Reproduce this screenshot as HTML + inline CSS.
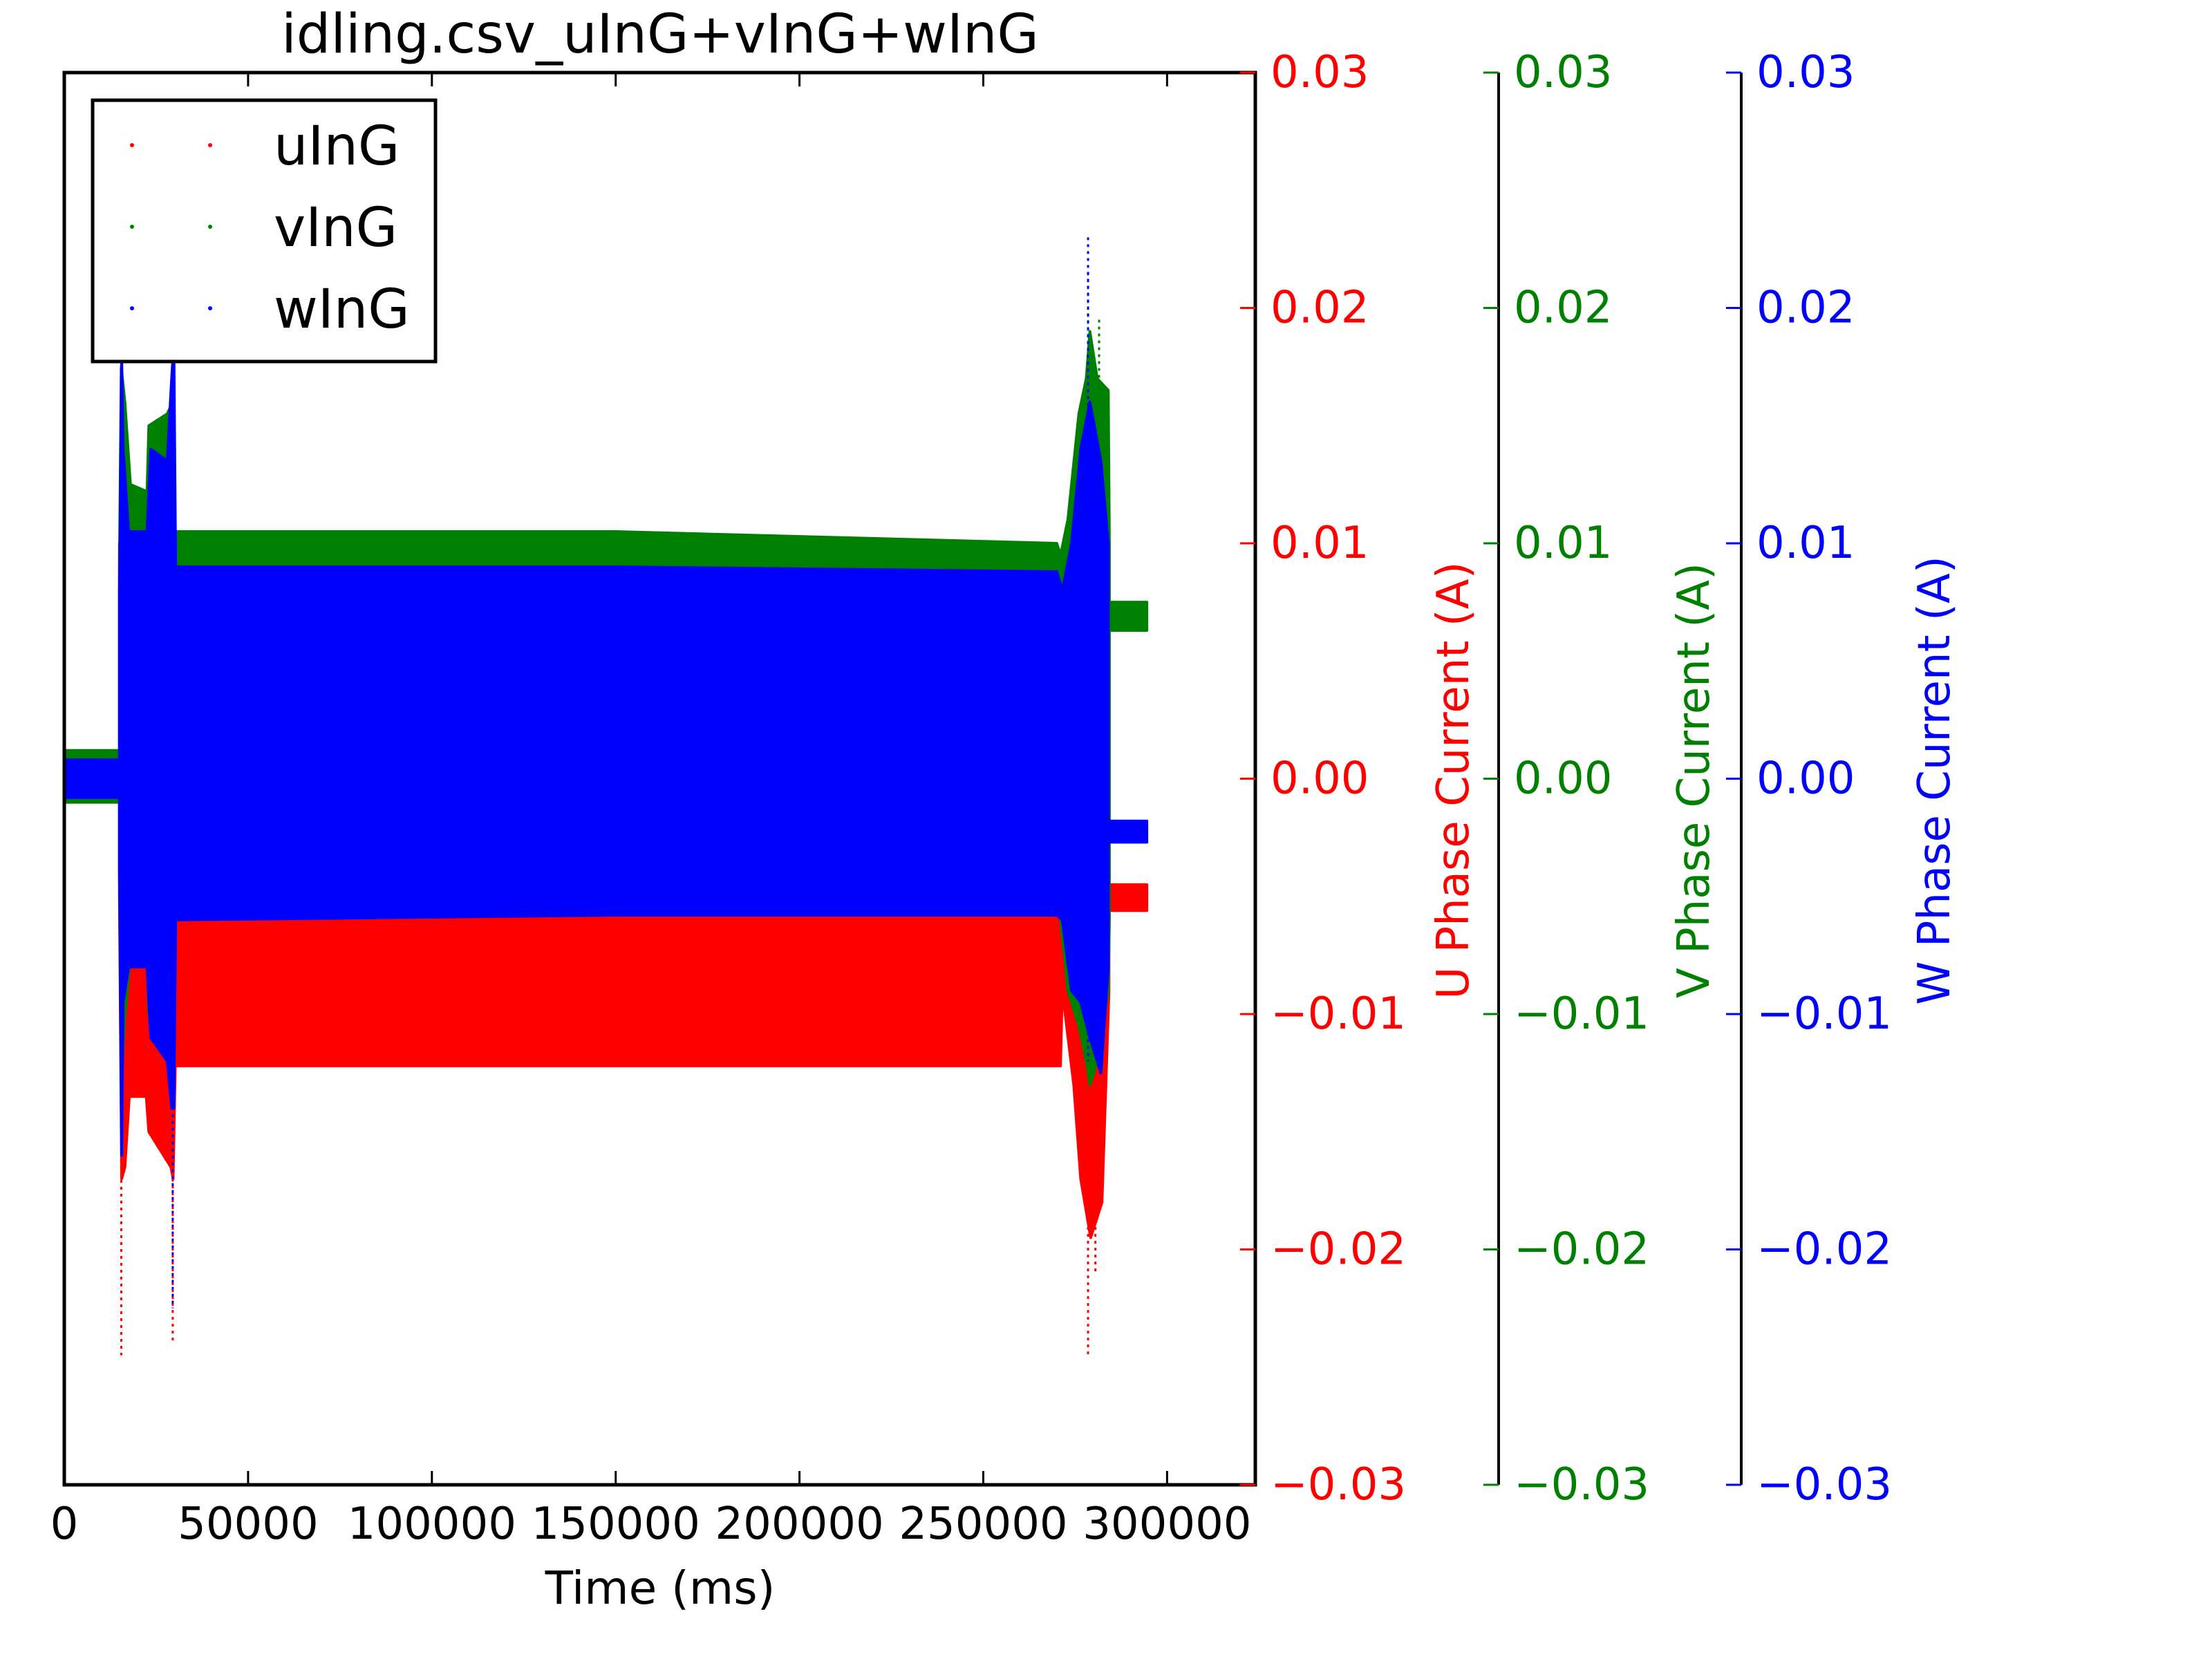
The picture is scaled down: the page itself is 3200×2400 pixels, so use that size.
<!DOCTYPE html>
<html><head><meta charset="utf-8"><style>
html,body{margin:0;padding:0;background:#fff;}
svg{display:block;font-family:"DejaVu Sans","Liberation Sans",sans-serif;}
</style></head><body>
<svg id="chart" width="3200" height="2400" viewBox="0 0 3200 2400" xmlns="http://www.w3.org/2000/svg">
<rect x="0" y="0" width="3200" height="2400" fill="#fff"/>
<g id="data"></g>
<g id="axes"></g>
</svg>
<script>
// ---- data (time in ms, current in A) ----
const xTicks = [0, 50000, 100000, 150000, 200000, 250000, 300000];
const xTickLabels = ["0","50000","100000","150000","200000","250000","300000"];
const yTicks = [0.03, 0.02, 0.01, 0.00, -0.01, -0.02, -0.03];
const yTickLabels = ["0.03","0.02","0.01","0.00","\u22120.01","\u22120.02","\u22120.03"];

// u (red) envelope segments
const uTime = [[0,15000],[15000,15600,16500,17700,22300,23000,29000,29600,30200,150000,271000,271500,274600,276500,279200,282300,284200],[284500,294500]];
const uHigh = [[0.0004,0.0004],[0.010,0.010,0.010,0.010,0.010,0.010,0.010,0.010,0.008,0.008,0.008,0.008,0.010,0.010,0.010,0.010,0.009],[-0.0045,-0.0045]];
const uLow  = [[-0.0008,-0.0008],[-0.005,-0.017,-0.0165,-0.0135,-0.0135,-0.015,-0.0165,-0.017,-0.0122,-0.0122,-0.0122,-0.009,-0.013,-0.017,-0.0195,-0.018,-0.009],[-0.0056,-0.0056]];
// v (green)
const vTime = [[0,15000],[15000,15500,16500,18000,22500,23000,28000,29500,30200,150000,270000,271000,273000,276000,278000,279000,281000,284000,284300],[284500,294500]];
const vHigh = [[0.0012,0.0012],[0.009,0.0175,0.016,0.0125,0.0122,0.015,0.0155,0.016,0.0105,0.0105,0.0100,0.0095,0.011,0.0155,0.017,0.019,0.017,0.0165,0.010],[0.0075,0.0075]];
const vLow  = [[-0.0010,-0.0010],[-0.004,-0.013,-0.010,-0.0075,-0.0075,-0.010,-0.011,-0.013,-0.0055,-0.0055,-0.0055,-0.006,-0.009,-0.0105,-0.012,-0.013,-0.012,-0.009,-0.006],[0.0063,0.0063]];
// w (blue)
const wTime = [[0,15000],[15000,15600,16000,17500,22500,23500,28000,29200,29800,30300,150000,270000,271500,274000,276500,279000,282000,284000],[284500,294500]];
const wHigh = [[0.0008,0.0008],[0.008,0.018,0.014,0.0105,0.0105,0.014,0.0135,0.017,0.0185,0.009,0.009,0.0088,0.008,0.010,0.014,0.016,0.0135,0.010],[-0.0018,-0.0018]];
const wLow  = [[-0.0008,-0.0008],[-0.004,-0.016,-0.0095,-0.008,-0.008,-0.011,-0.012,-0.014,-0.014,-0.006,-0.0058,-0.0058,-0.006,-0.009,-0.0095,-0.011,-0.0125,-0.008],[-0.0027,-0.0027]];
// sparse outlier spikes: time, high, low
const uSpikeT = [15500, 29500, 278500, 280500];
const uSpikeHi = [-0.010, -0.012, -0.012, -0.012];
const uSpikeLo = [-0.0245, -0.024, -0.0245, -0.021];
const vSpikeT = [15500, 278500, 281500];
const vSpikeHi = [0.0235, 0.0215, 0.0195];
const vSpikeLo = [0.010, 0.010, 0.010];
const wSpikeT = [15500, 29500, 278500];
const wSpikeHi = [0.0234, 0.0207, 0.023];
const wSpikeLo = [-0.016, -0.0225, -0.012];

// ---- layout ----
const L = 93, R = 1816, T = 105, B = 2148;
const XMAX = 324000, YMIN = -0.03, YMAX = 0.03;
const xs = t => L + t / XMAX * (R - L);
const ys = v => T + (YMAX - v) / (YMAX - YMIN) * (B - T);
const NS = "http://www.w3.org/2000/svg";
const dataG = document.getElementById('data');
const axesG = document.getElementById('axes');
function mk(tag, attrs, parent) {
  const e = document.createElementNS(NS, tag);
  for (const k in attrs) e.setAttribute(k, attrs[k]);
  parent.appendChild(e);
  return e;
}

function drawSeries(name, color, times, highs, lows, sT, sH, sL) {
  const g = mk('g', {}, dataG);
  
  
  for (let s = 0; s < times.length; s++) {
    const t = times[s], hi = highs[s], lo = lows[s];
    let pts = [];
    for (let i = 0; i < t.length; i++) pts.push(xs(t[i]).toFixed(1) + ',' + ys(hi[i]).toFixed(1));
    for (let i = t.length - 1; i >= 0; i--) pts.push(xs(t[i]).toFixed(1) + ',' + ys(lo[i]).toFixed(1));
    const p = mk('polygon', {points: pts.join(' '), fill: color, stroke: color, 'stroke-width': 4, 'stroke-linejoin': 'round'}, g);
    
    
  }
  for (let i = 0; i < sT.length; i++) {
    const l = mk('line', {x1: xs(sT[i]), x2: xs(sT[i]), y1: ys(sH[i]), y2: ys(sL[i]), stroke: color, 'stroke-width': 3, 'stroke-dasharray': '4 6'}, g);
    
    
  }
}
drawSeries('uInG', '#ff0000', uTime, uHigh, uLow, uSpikeT, uSpikeHi, uSpikeLo);
drawSeries('vInG', '#008000', vTime, vHigh, vLow, vSpikeT, vSpikeHi, vSpikeLo);
drawSeries('wInG', '#0000ff', wTime, wHigh, wLow, wSpikeT, wSpikeHi, wSpikeLo);

// ---- axes ----
const frame = mk('rect', {x: L, y: T, width: R - L, height: B - T, fill: 'none', stroke: '#000', 'stroke-width': 5}, axesG);



for (let i = 0; i < xTicks.length; i++) {
  const x = xs(xTicks[i]);
  const t1 = mk('line', {x1: x, x2: x, y1: B, y2: B - 20, stroke: '#000', 'stroke-width': 3}, axesG);
  
  
  const t2 = mk('line', {x1: x, x2: x, y1: T, y2: T + 20, stroke: '#000', 'stroke-width': 3}, axesG);
  
  
  const lb = mk('text', {x: x, y: 2226, 'font-size': 64, 'text-anchor': 'middle', fill: '#000'}, axesG);
  lb.textContent = xTickLabels[i];
  
  
}
const xt = mk('text', {x: 955, y: 2320, 'font-size': 66, 'text-anchor': 'middle', fill: '#000'}, axesG);
xt.textContent = 'Time (ms)';



const title = mk('text', {x: 955, y: 76, 'font-size': 78, 'text-anchor': 'middle', fill: '#000'}, axesG);
title.textContent = 'idling.csv_uInG+vInG+wInG';



const yAxes = [
  {x: R, color: '#ff0000', label: 'U Phase Current (A)', lx: 2124, name: 'u'},
  {x: 2168, color: '#008000', label: 'V Phase Current (A)', lx: 2472, name: 'v'},
  {x: 2519, color: '#0000ff', label: 'W Phase Current (A)', lx: 2820, name: 'w'}
];
yAxes.forEach((a, k) => {
  if (k > 0) {
    const sp = mk('line', {x1: a.x, x2: a.x, y1: T, y2: B, stroke: '#000', 'stroke-width': 4}, axesG);
    
    
  }
  for (let i = 0; i < yTicks.length; i++) {
    const y = ys(yTicks[i]);
    const tk = mk('line', {x1: a.x - 22, x2: a.x, y1: y, y2: y, stroke: a.color, 'stroke-width': 3}, axesG);
    
    
    const lb = mk('text', {x: a.x + 22, y: y + 21, 'font-size': 64, fill: a.color}, axesG);
    lb.textContent = yTickLabels[i];
    
    
  }
  const yl = mk('text', {x: a.lx, y: 1129, 'font-size': 64, fill: a.color, 'text-anchor': 'middle', transform: 'rotate(-90 ' + a.lx + ' 1129)'}, axesG);
  yl.textContent = a.label;
  
  
});

// ---- legend ----
const leg = mk('g', {}, axesG);


const lbox = mk('rect', {x: 134, y: 145, width: 496, height: 378, fill: '#fff', stroke: '#000', 'stroke-width': 5}, leg);


const legNames = ['uInG', 'vInG', 'wInG'];
const legColors = ['#ff0000', '#008000', '#0000ff'];
legNames.forEach((n, i) => {
  const cy = 210 + i * 118;
  const e = mk('g', {}, leg);
  
  
  mk('circle', {cx: 191, cy: cy, r: 3, fill: legColors[i]}, e);
  mk('circle', {cx: 304, cy: cy, r: 3, fill: legColors[i]}, e);
  const t = mk('text', {x: 396, y: cy + 28, 'font-size': 78, fill: '#000'}, e);
  t.textContent = n;
});
</script>
</body></html>
